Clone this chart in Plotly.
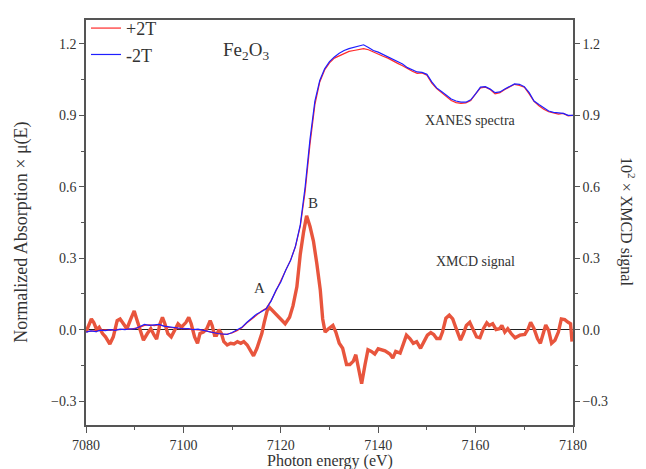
import plotly.graph_objects as go

# Fe K-edge XANES of Fe2O3 under +2T / -2T fields, and the XMCD difference
energy = list(range(7080, 7181))

xanes_minus2t = [
    -0.010, -0.005, -0.008, -0.002, -0.004, 0.000, -0.003, 0.002, 0.000, 0.004,
    0.003, 0.012, 0.022, 0.018, 0.020, 0.022, 0.015, 0.012, 0.008, 0.006,
    0.004, 0.005, 0.000, 0.002, -0.003, -0.006, -0.010, -0.016, -0.018, -0.020,
    -0.012, -0.002, 0.010, 0.030, 0.048, 0.065, 0.075, 0.088, 0.120, 0.165,
    0.200, 0.250, 0.290, 0.350, 0.440, 0.600, 0.800, 0.960, 1.046, 1.095,
    1.125, 1.145, 1.160, 1.172, 1.180, 1.185, 1.190, 1.196, 1.185, 1.172,
    1.165, 1.155, 1.145, 1.135, 1.125, 1.115, 1.100, 1.090, 1.082, 1.080,
    1.072, 1.040, 1.015, 1.000, 0.985, 0.968, 0.960, 0.955, 0.955, 0.965,
    0.990, 1.018, 1.020, 1.010, 0.995, 0.998, 1.010, 1.020, 1.032, 1.030,
    1.020, 0.995, 0.960, 0.945, 0.930, 0.918, 0.912, 0.910, 0.908, 0.900,
    0.900,
]

xanes_plus2t = [
    -0.008, -0.006, -0.004, -0.005, -0.001, -0.003, 0.001, 0.000, 0.003, 0.002,
    0.006, 0.010, 0.018, 0.020, 0.017, 0.020, 0.016, 0.010, 0.009, 0.004,
    0.006, 0.003, 0.002, -0.001, -0.002, -0.008, -0.012, -0.014, -0.020, -0.018,
    -0.014, -0.004, 0.008, 0.028, 0.045, 0.062, 0.077, 0.090, 0.122, 0.162,
    0.203, 0.247, 0.292, 0.348, 0.435, 0.580, 0.780, 0.945, 1.040, 1.090,
    1.120, 1.140, 1.150, 1.160, 1.168, 1.172, 1.176, 1.180, 1.175, 1.165,
    1.158, 1.148, 1.140, 1.128, 1.118, 1.108, 1.095, 1.085, 1.076, 1.078,
    1.068, 1.035, 1.012, 0.995, 0.980, 0.962, 0.953, 0.950, 0.952, 0.962,
    0.990, 1.015, 1.018, 1.008, 0.990, 0.995, 1.008, 1.018, 1.030, 1.025,
    1.018, 0.990, 0.958, 0.940, 0.925, 0.915, 0.910, 0.905, 0.908, 0.898,
    0.900,
]

xmcd_energy = [
    7080.0, 7080.6, 7081.1, 7081.6, 7082.2, 7082.7, 7083.4, 7084.0, 7084.9, 7085.6,
    7086.4, 7087.0, 7087.7, 7088.4, 7089.2, 7089.9, 7090.4, 7091.1, 7091.8, 7092.6,
    7093.3, 7094.0, 7094.5, 7095.2, 7095.7, 7096.2, 7096.8, 7097.5, 7098.2, 7098.9,
    7099.6, 7100.5, 7101.1, 7101.6, 7102.3, 7102.9, 7103.4, 7104.1, 7104.8, 7105.5,
    7105.9, 7106.4, 7106.8, 7107.3, 7107.8, 7108.3, 7109.0, 7109.7, 7110.4, 7111.1,
    7111.8, 7112.4, 7113.1, 7113.8, 7114.4, 7115.1, 7115.7, 7116.1, 7116.6, 7117.2,
    7117.7, 7118.9, 7120.2, 7120.9, 7121.8, 7122.5, 7123.3, 7124.0, 7124.7, 7125.3,
    7126.0, 7126.7, 7127.4, 7128.1, 7128.6, 7129.1, 7129.8, 7130.7, 7131.3, 7132.0,
    7132.7, 7133.5, 7134.2, 7134.9, 7135.4, 7135.9, 7136.6, 7137.3, 7137.9, 7138.6,
    7139.3, 7140.0, 7141.4, 7142.4, 7143.0, 7143.6, 7144.5, 7145.1, 7145.8, 7146.5,
    7147.2, 7147.9, 7148.7, 7149.4, 7150.1, 7150.8, 7151.4, 7152.0, 7152.7, 7153.2,
    7153.9, 7154.6, 7155.3, 7155.9, 7156.4, 7156.9, 7157.5, 7158.1, 7158.8, 7159.5,
    7160.2, 7160.9, 7161.6, 7162.3, 7162.8, 7163.5, 7164.2, 7164.9, 7165.4, 7166.0,
    7166.6, 7167.3, 7168.1, 7169.1, 7170.1, 7170.8, 7171.3, 7172.0, 7172.7, 7173.3,
    7173.9, 7174.4, 7175.0, 7175.6, 7176.3, 7177.0, 7177.6, 7178.3, 7179.0, 7179.5,
    7179.8,
]

xmcd_signal = [
    -0.010, 0.025, 0.045, 0.030, 0.000, 0.010, -0.016, -0.030, -0.060, -0.030,
    0.038, 0.045, 0.025, 0.004, 0.045, 0.079, 0.045, 0.000, -0.044, -0.016,
    0.004, -0.023, -0.040, 0.025, 0.052, 0.025, -0.016, -0.030, 0.000, 0.025,
    0.011, 0.030, 0.052, 0.025, -0.030, -0.057, -0.016, -0.010, 0.004, 0.038,
    0.018, -0.023, -0.023, 0.000, -0.016, -0.050, -0.064, -0.057, -0.060, -0.050,
    -0.057, -0.050, -0.064, -0.091, -0.110, -0.078, -0.045, -0.016, 0.031, 0.080,
    0.093, 0.066, 0.038, 0.025, 0.052, 0.100, 0.180, 0.317, 0.413, 0.478,
    0.433, 0.372, 0.277, 0.168, 0.045, -0.010, 0.004, 0.018, -0.010, -0.057,
    -0.078, -0.146, -0.146, -0.132, -0.105, -0.160, -0.227, -0.146, -0.084, -0.091,
    -0.102, -0.080, -0.089, -0.102, -0.119, -0.091, -0.098, -0.064, -0.023, -0.037,
    -0.057, -0.050, -0.078, -0.050, -0.023, -0.012, -0.020, -0.037, -0.037, -0.010,
    0.048, 0.061, 0.045, 0.011, -0.016, -0.044, -0.016, 0.018, 0.031, 0.004,
    -0.030, -0.034, 0.004, 0.029, 0.018, 0.025, 0.001, 0.004, 0.018, -0.010,
    0.004, -0.016, -0.034, -0.023, -0.020, 0.004, 0.031, 0.004, -0.037, -0.057,
    -0.010, 0.020, -0.003, -0.057, -0.044, -0.010, 0.045, 0.042, 0.031, 0.025,
    -0.050,
]

x_range = [7080, 7180]
y_range = [-0.4, 1.3]

SERIF = "Liberation Serif"
TXT = "#333333"
FRAME = "#555555"

W, H = 646, 469
ML, MR, MT, MB = 86, 73, 10, 44

fig = go.Figure()

# XMCD difference signal (thick)
fig.add_trace(go.Scatter(
    x=xmcd_energy, y=xmcd_signal, mode="lines", yaxis="y",
    line=dict(color="#e8553d", width=3.4), showlegend=False,
))
# XANES spectra
fig.add_trace(go.Scatter(
    x=energy, y=xanes_plus2t, mode="lines", name="+2T", yaxis="y2",
    line=dict(color="#ff2a2a", width=1.2),
))
fig.add_trace(go.Scatter(
    x=energy, y=xanes_minus2t, mode="lines", name="-2T", yaxis="y2",
    line=dict(color="#1f1fff", width=1.2),
))

tick_font = dict(family=SERIF, size=14, color=TXT)
yaxis_common = dict(
    range=y_range, tickmode="linear", tick0=0, dtick=0.3, tickformat=".1f",
    ticks="outside", ticklen=5, tickwidth=1.2, tickcolor=FRAME,
    minor=dict(dtick=0.15, tick0=0, ticks="outside", ticklen=3, tickcolor=FRAME),
    showgrid=False, showline=True, linecolor=FRAME, linewidth=1.5,
    tickfont=tick_font,
)

fig.update_layout(
    width=W, height=H,
    margin=dict(l=ML, r=MR, t=MT, b=MB),
    paper_bgcolor="white", plot_bgcolor="white",
    font=dict(family=SERIF, color=TXT),
    xaxis=dict(
        range=x_range, tickmode="linear", tick0=7080, dtick=20,
        ticks="outside", ticklen=6, tickwidth=1.2, tickcolor=FRAME,
        minor=dict(dtick=10, ticks="outside", ticklen=3, tickcolor=FRAME),
        showgrid=False, showline=True, mirror=True, linecolor=FRAME, linewidth=1.5,
        zeroline=False, tickfont=tick_font,
    ),
    yaxis=dict(**yaxis_common, zeroline=True, zerolinecolor="#222222", zerolinewidth=1.4),
    yaxis2=dict(**yaxis_common, overlaying="y", side="right", zeroline=False),
    legend=dict(
        x=0.0, y=1.025, xanchor="left", yanchor="top",
        bgcolor="rgba(0,0,0,0)", font=dict(family=SERIF, size=18, color=TXT),
        tracegroupgap=0, itemwidth=30,
    ),
)

annotations = [
    dict(x=7112.9, y=1.168, xref="x", yref="y", text="Fe<sub>2</sub>O<sub>3</sub>",
         font=dict(size=19)),
    dict(x=7159.0, y=0.877, xref="x", yref="y", text="XANES spectra", font=dict(size=14)),
    dict(x=7159.9, y=0.285, xref="x", yref="y", text="XMCD signal", font=dict(size=14)),
    dict(x=7115.7, y=0.175, xref="x", yref="y", text="A", font=dict(size=15)),
    dict(x=7126.6, y=0.53, xref="x", yref="y", text="B", font=dict(size=15)),
    dict(x=22, y=228, xref="paper", yref="paper", text="Normalized Absorption × μ(E)",
         textangle=-90, font=dict(size=18)),
    dict(x=628, y=216, xref="paper", yref="paper", text="10<sup>2</sup> × XMCD signal",
         textangle=90, font=dict(size=16)),
    dict(x=330, y=462, xref="paper", yref="paper", text="Photon energy (eV)",
         font=dict(size=16)),
]

# paper-positioned titles are given in pixels; convert to paper fractions
pw, ph = W - ML - MR, H - MT - MB
for a in annotations:
    a.setdefault("showarrow", False)
    a["xanchor"] = "center"
    a["yanchor"] = "middle"
    a["font"] = dict(family=SERIF, color=TXT, **a["font"])
    if a["xref"] == "paper":
        a["x"] = (a["x"] - ML) / pw
        a["y"] = (H - MB - a["y"]) / ph
    fig.add_annotation(**a)

fig.write_html("out.html")
